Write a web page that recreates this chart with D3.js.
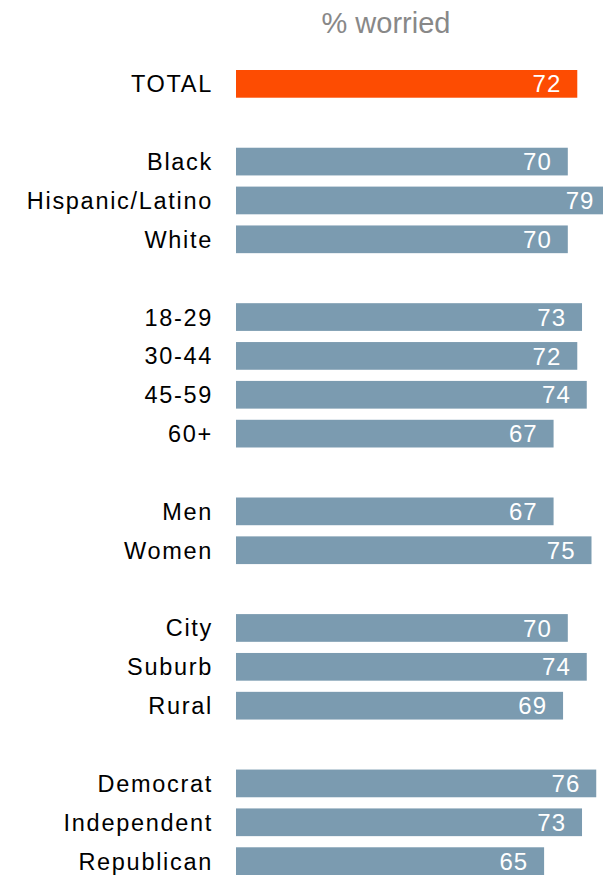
<!DOCTYPE html>
<html>
<head>
<meta charset="utf-8">
<script src="https://cdn.jsdelivr.net/npm/d3@7"></script>
<style>
  body { margin: 0; background: #fff; }
  svg { display: block; overflow: hidden; }
  text { font-family: "Liberation Sans", Arial, Helvetica, sans-serif; }
</style>
</head>
<body>
<svg id="chart"></svg>
<script>
// data
const categories = ["TOTAL", "Black", "Hispanic/Latino", "White",
    "18-29", "30-44", "45-59", "60+", "Men", "Women",
    "City", "Suburb", "Rural", "Democrat", "Independent", "Republican"];
const values = [72, 70, 79, 70, 73, 72, 74, 67, 67, 75, 70, 74, 69, 76, 73, 65];
// which block each row belongs to (a blank row sits between blocks)
const groups = [0, 1, 1, 1, 2, 2, 2, 2, 3, 3, 4, 4, 4, 5, 5, 5];
const title = "% worried";

const width = 603, height = 876;
const svg = d3.select("#chart").attr("width", width).attr("height", height);

const rows = categories.map((c, i) => ({name: c, value: values[i], row: i + groups[i], total: i === 0}));
const nRows = categories.length + groups[groups.length - 1];

// scales
const x = d3.scaleLinear().domain([0, 100]).range([236, 710]);
const y = d3.scaleBand()
    .domain(d3.range(nRows))
    .range([70, 875])
    .paddingInner(0.287)
    .paddingOuter(0);

// title
svg.append("text")
    .attr("x", 386)
    .attr("y", 33)
    .attr("text-anchor", "middle")
    .style("font-size", "29px")
    .style("fill", "#888")
    .text(title);

// bars
svg.selectAll(".bar")
    .data(rows)
    .enter().append("rect")
    .attr("class", "bar")
    .attr("x", x(0))
    .attr("y", d => y(d.row))
    .attr("width", d => x(d.value) - x(0))
    .attr("height", y.bandwidth())
    .attr("fill", d => d.total ? "#fd4c02" : "#7b9bb0");

// category labels
svg.selectAll(".cat")
    .data(rows)
    .enter().append("text")
    .attr("class", "cat")
    .attr("x", 213)
    .attr("y", d => y(d.row) + y.bandwidth() / 2)
    .attr("dy", "0.36em")
    .attr("text-anchor", "end")
    .style("font-size", "23.5px")
    .style("letter-spacing", "1.7px")
    .style("fill", "#000")
    .text(d => d.name);

// value labels inside bars
svg.selectAll(".val")
    .data(rows)
    .enter().append("text")
    .attr("class", "val")
    .attr("x", d => x(d.value) - 16)
    .attr("y", d => y(d.row) + y.bandwidth() / 2)
    .attr("dy", "0.36em")
    .attr("text-anchor", "end")
    .style("font-size", "24px")
    .style("letter-spacing", "1px")
    .style("fill", "#fff")
    .text(d => d.value);
</script>
</body>
</html>
